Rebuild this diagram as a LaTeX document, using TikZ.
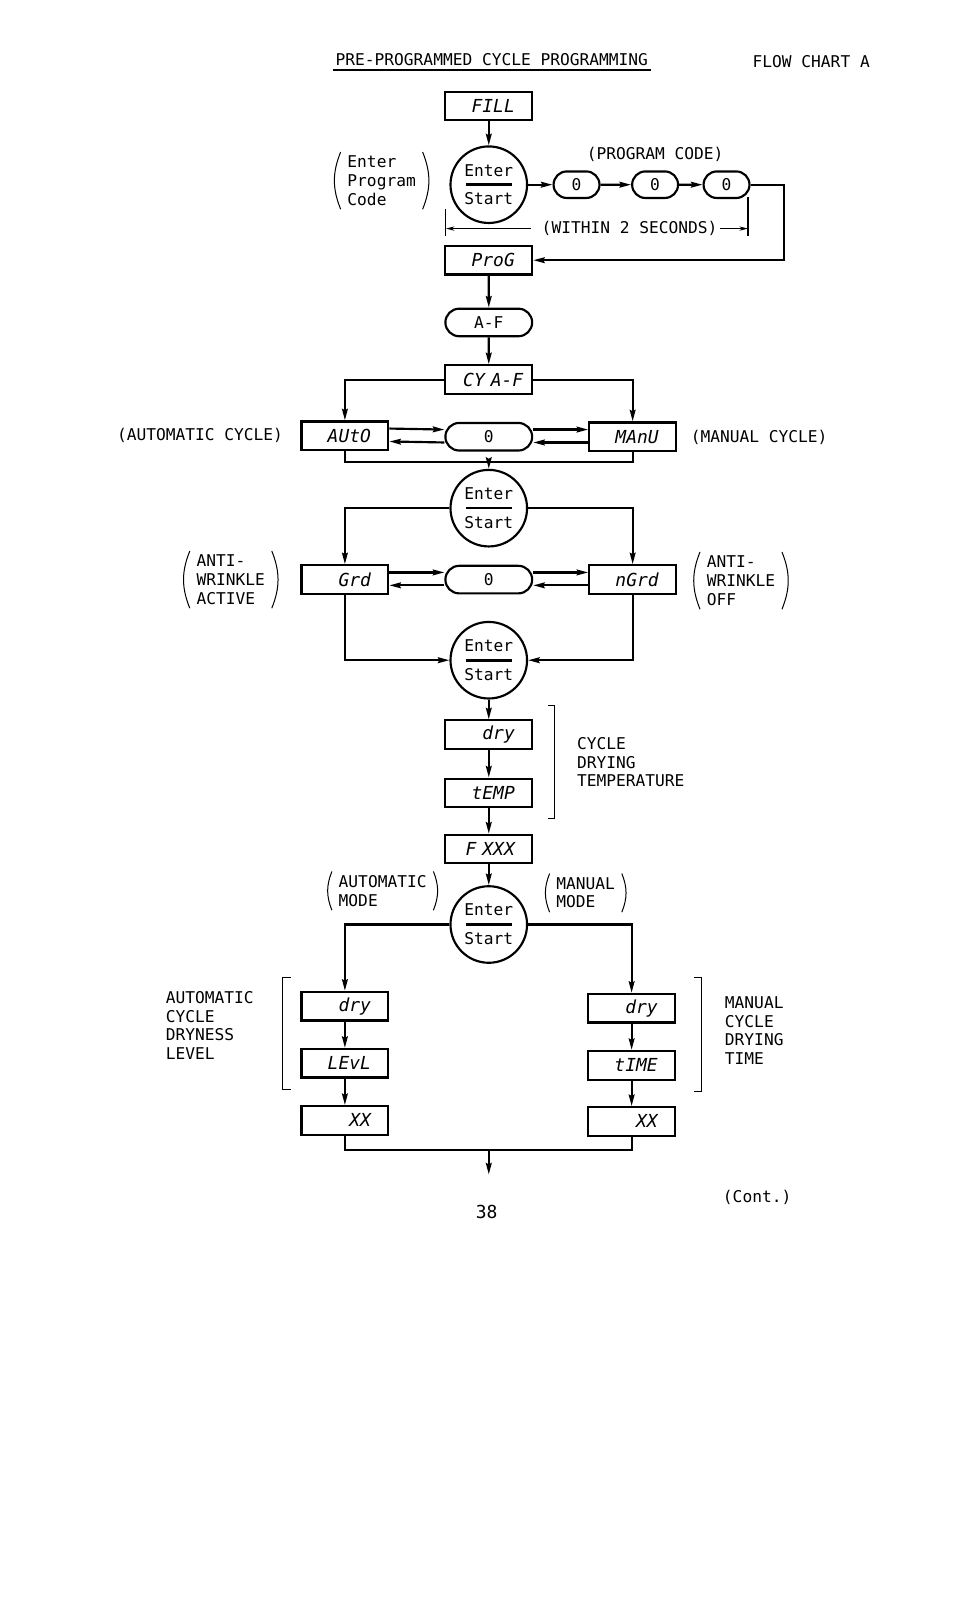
\documentclass[tikz,border=0pt]{standalone}
\usepackage{fontspec}
\newfontfamily\lblfont{DejaVu Sans Mono}
\usetikzlibrary{arrows.meta, positioning, shapes.misc, calc}

\begin{document}
\begin{tikzpicture}[x=0.025cm, y=-0.025cm,
    >={Stealth[length=8pt, width=4pt, inset=1pt]},
    line width=1.5pt,
    lbl/.style={font=\lblfont\fontsize{11.3}{13}\selectfont, inner sep=1pt, align=left},
    plbl/.style={lbl, inner xsep=4pt, inner ysep=2pt},
    disp/.style={draw, minimum height=0.7cm, text width=1.275cm, inner xsep=0.425cm, inner ysep=0pt,
      align=right, font=\lblfont\itshape\fontsize{12.5}{13}\selectfont},
    pill/.style={draw, rounded rectangle, minimum width=2.125cm, minimum height=0.675cm, inner sep=0pt,
      font=\lblfont\fontsize{11.3}{13}\selectfont},
    sp/.style={pill, minimum width=1.125cm, minimum height=0.65cm},
    es/.style={draw, circle, minimum size=1.875cm, inner sep=0pt, align=center,
      font=\lblfont\fontsize{11.3}{13}\selectfont,
      path picture={\draw[line width=1.8pt] ([xshift=-0.56cm]path picture bounding box.center)
        -- ([xshift=0.56cm]path picture bounding box.center);}},
    ann/.style={line width=0.7pt},
    small/.style={ann, >={Stealth[length=6pt, width=3pt]}}]
  \useasboundingbox (0,0) rectangle (954,1568);

  % heading
  \node[lbl] (title) at (482,58) {PRE-PROGRAMMED CYCLE PROGRAMMING};
  \draw[line width=1.4pt] ([yshift=-1.5pt]title.south west) -- ([yshift=-1.5pt]title.south east);
  \node[lbl] (flow) at (795,60) {FLOW CHART A};

  % entering the program code
  \node[disp] (fill) at (479,104) {FILL};
  \node[es] (es1) at (479,181) {Enter\\[7pt]Start};
  \node[plbl] (ec) at (374,177) {Enter\\Program\\Code};
  \node[lbl] (pcode) at (642,151) {(PROGRAM CODE)};
  \node[sp] (p1) at (565,181) {0};
  \node[sp] (p2) at (642,181) {0};
  \node[sp] (p3) at (712,181) {0};
  \node[lbl] (within) at (617,224) {(WITHIN 2 SECONDS)};
  \coordinate (wl) at (437,224);
  \coordinate (wr) at (733,224);
  \node[disp] (prog) at (479,255) {ProG};
  \node[pill] (af) at (479,316) {A-F};
  \node[disp, text width=1.685cm, inner xsep=0.22cm] (cy) at (479,372) {CY A-F};

  \draw[->] (fill) -- (es1);
  \draw[->] (es1) -- (p1);
  \draw[->] (p1) -- (p2);
  \draw[->] (p2) -- (p3);
  \draw[->] (p3.east) -- ++(33,0) |- (prog.east);
  \draw[ann] (437,205) -- (437,231);
  \draw[line width=1.1pt] (733,193) -- (733,231);
  \draw[small,->] ([xshift=-6pt]within.west) -- (wl);
  \draw[small,->] (within.east) -- (wr);
  \draw[->] (prog) -- (af);
  \draw[->] (af) -- (cy);

  % automatic / manual cycle
  \node[disp] (auto) at (338,427) {AUtO};
  \node[pill] (zero1) at (479,428) {0};
  \node[disp] (manu) at (620,428) {MAnU};
  \node[lbl] (acyc) at (196,427) {(AUTOMATIC CYCLE)};
  \node[lbl] (mcyc) at (744,429) {(MANUAL CYCLE)};
  \coordinate (j1) at (479,453);
  \node[es] (es2) at (479,498) {Enter\\[7pt]Start};

  \draw[->] (cy.west) -| (auto.north);
  \draw[->] (cy.east) -| (manu.north);
  \draw[->] ([yshift=5pt]auto.east) -- ([yshift=5pt]zero1.west);
  \draw[->] ([yshift=-4pt]zero1.west) -- ([yshift=-4pt]auto.east);
  \draw[->] ([yshift=5pt]zero1.east) -- ([yshift=5pt]manu.west);
  \draw[->] ([yshift=-4pt]manu.west) -- ([yshift=-4pt]zero1.east);
  \draw (auto.south) |- (j1) -| (manu.south);
  \draw[->] (j1) -- (es2);

  % anti-wrinkle
  \node[disp] (grd) at (338,568) {Grd};
  \node[pill] (zero2) at (479,568) {0};
  \node[disp] (ngrd) at (620,568) {nGrd};
  \node[plbl, anchor=west] (awa) at (186,568) {ANTI-\\WRINKLE\\ACTIVE};
  \node[plbl, anchor=west] (awo) at (686,569) {ANTI-\\WRINKLE\\OFF\phantom{KLE}};
  \node[es] (es3) at (479,647) {Enter\\[7pt]Start};

  \draw[->] (es2.west) -| (grd.north);
  \draw[->] (es2.east) -| (ngrd.north);
  \draw[->] ([yshift=5pt]grd.east) -- ([yshift=5pt]zero2.west);
  \draw[->] ([yshift=-4pt]zero2.west) -- ([yshift=-4pt]grd.east);
  \draw[->] ([yshift=5pt]zero2.east) -- ([yshift=5pt]ngrd.west);
  \draw[->] ([yshift=-4pt]ngrd.west) -- ([yshift=-4pt]zero2.east);
  \draw[->] (grd.south) |- (es3.west);
  \draw[->] (ngrd.south) |- (es3.east);

  % drying temperature
  \node[disp] (dry1) at (479,720) {dry};
  \node[disp] (temp) at (479,777) {tEMP};
  \node[disp] (fxxx) at (479,832) {F XXX};
  \node[lbl, anchor=west] (ctemp) at (563,747) {CYCLE\\DRYING\\TEMPERATURE};
  \draw[ann] (537,691) -| (543,802) -- (537,802);
  \node[es] (es4) at (479,906) {Enter\\[7pt]Start};
  \node[plbl] (amode) at (375,873) {AUTOMATIC\\MODE};
  \node[plbl] (mmode) at (574,875) {MANUAL\\MODE};

  \draw[->] (es3) -- (dry1);
  \draw[->] (dry1) -- (temp);
  \draw[->] (temp) -- (fxxx);
  \draw[->] (fxxx) -- (es4);

  % dryness level / drying time
  \node[disp] (dryA) at (338,986) {dry};
  \node[disp] (levl) at (338,1042) {LEvL};
  \node[disp] (xxA) at (338,1098) {XX};
  \node[disp] (dryM) at (619,988) {dry};
  \node[disp] (time) at (619,1044) {tIME};
  \node[disp] (xxM) at (619,1099) {XX};
  \node[lbl, anchor=west] (alevel) at (160,1005) {AUTOMATIC\\CYCLE\\DRYNESS\\LEVEL};
  \node[lbl, anchor=west] (mtime) at (708,1010) {MANUAL\\CYCLE\\DRYING\\TIME};
  \draw[ann] (285,958) -| (277,1068) -- (285,1068);
  \draw[ann] (680,958) -| (687,1070) -- (680,1070);
  \coordinate (j2) at (479,1127);
  \coordinate (out) at (479,1151);

  \draw[->] (es4.west) -| (dryA.north);
  \draw[->] (es4.east) -| (dryM.north);
  \draw[->] (dryA) -- (levl);
  \draw[->] (levl) -- (xxA);
  \draw[->] (dryM) -- (time);
  \draw[->] (time) -- (xxM);
  \draw (xxA.south) |- (j2) -| (xxM.south);
  \draw[->] (j2) -- (out);

  \node[lbl] (cont) at (742,1173) {(Cont.)};
  \node[lbl, font=\lblfont\fontsize{12.5}{14}\selectfont] (page) at (477,1188) {38};

  % big parentheses round the notes
  \foreach \n in {ec, awa, awo, amode, mmode} {
    \draw[ann] (\n.north west) to[bend right=22] (\n.south west);
    \draw[ann] (\n.north east) to[bend left=22] (\n.south east);
  }
\end{tikzpicture}
\end{document}
